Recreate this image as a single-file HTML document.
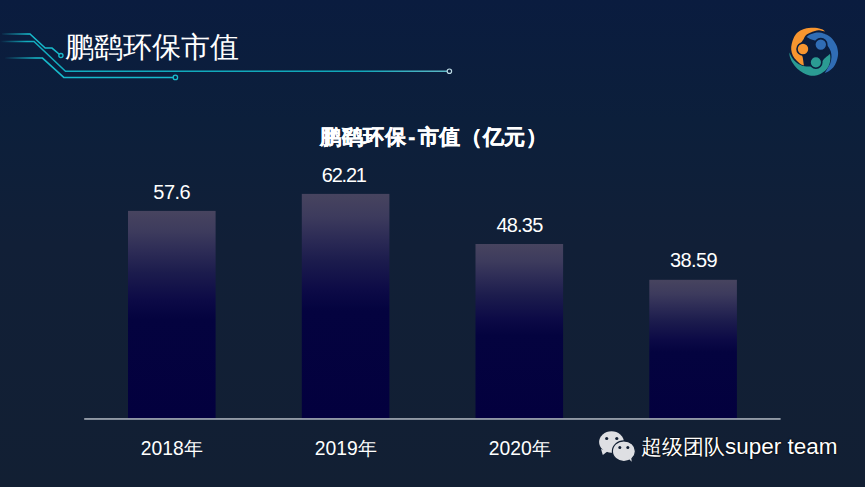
<!DOCTYPE html>
<html><head><meta charset="utf-8">
<style>
*{margin:0;padding:0;box-sizing:border-box}
html,body{width:865px;height:487px;overflow:hidden}
body{position:relative;font-family:"Liberation Sans",sans-serif;color:#fff;
background:linear-gradient(180deg,#0a1c3f 0%,#0c1f3b 25%,#111f37 50%,#121f33 100%)}
.abs{position:absolute}
.t{white-space:nowrap;line-height:1}
#title{left:65px;top:33px;font-size:29px;letter-spacing:0px}
#ctitle{left:320px;top:126.8px;font-size:21.3px;font-weight:bold;letter-spacing:0.7px;-webkit-text-stroke:0.35px #fff}
#ctitle i{font-style:normal;margin:0 1.5px}
.val{position:absolute;font-size:20px;text-align:center;width:120px;line-height:1;letter-spacing:-0.5px}
.cat{position:absolute;font-size:19.3px;text-align:center;width:120px;line-height:1;top:439px}
#wm{left:641px;top:436px;font-size:21px;color:#fff;text-shadow:0 0 2px #000,0 0 1px #000}
#wm span.en{font-size:22.5px}
.k{display:inline-block;width:1em}
#ctitle .k{width:21.7px}
.cat .k{width:19px}
</style></head><body>
<svg class="abs" style="left:0;top:0" width="865" height="487" viewBox="0 0 865 487">
<defs>
<linearGradient id="fade1" gradientUnits="userSpaceOnUse" x1="0" y1="0" x2="28" y2="0">
<stop offset="0" stop-color="#16bacb" stop-opacity="0"/><stop offset="1" stop-color="#16bacb" stop-opacity="1"/></linearGradient>
<linearGradient id="fade2" gradientUnits="userSpaceOnUse" x1="0" y1="0" x2="450" y2="0">
<stop offset="0" stop-color="#12aec0" stop-opacity="0"/><stop offset="0.06" stop-color="#12aec0"/><stop offset="0.8" stop-color="#10a6b8"/><stop offset="1" stop-color="#60b8c6"/></linearGradient>
<linearGradient id="fade3" gradientUnits="userSpaceOnUse" x1="4" y1="0" x2="36" y2="0">
<stop offset="0" stop-color="#16bacb" stop-opacity="0"/><stop offset="1" stop-color="#16bacb" stop-opacity="1"/></linearGradient>
<linearGradient id="barg" x1="0" y1="0" x2="0" y2="1">
<stop offset="0" stop-color="#47445f"/><stop offset="0.10" stop-color="#3d3b5d"/><stop offset="0.205" stop-color="#2b2a55"/><stop offset="0.295" stop-color="#1c1c4d"/><stop offset="0.43" stop-color="#0c0a46"/><stop offset="0.52" stop-color="#04033f"/><stop offset="1" stop-color="#03003e"/></linearGradient>
</defs>
<g fill="url(#barg)">
<rect x="128" y="210.9" width="87.6" height="208"/>
<rect x="301.8" y="193.9" width="87.6" height="225"/>
<rect x="475.5" y="244.0" width="87.6" height="175"/>
<rect x="649.3" y="279.8" width="87.6" height="139.2"/>
</g>
<rect x="84.2" y="418.1" width="696.4" height="1.7" fill="#a0a7b2"/>
<g fill="none" stroke-width="1.5">
<path d="M2,34 H30 L45.2,48.1 H52 L59.3,54.3" stroke="url(#fade1)"/>
<circle cx="60.9" cy="55.6" r="2.1" stroke="#18bccd" stroke-width="1.3"/>
<path d="M0,41.4 H34 L65.5,71.2 H447.2" stroke="url(#fade2)"/>
<circle cx="449.4" cy="71.2" r="2.2" stroke="#bcd9e3" stroke-width="1.2"/>
<path d="M5,58.1 H42.5 L63.8,77.4 H173.2" stroke="url(#fade3)"/>
<circle cx="175.4" cy="77.4" r="2.2" stroke="#18bccd" stroke-width="1.3"/>
</g>
<!-- logo -->
<g>
<path d="M803.90,65.40 C803.38,65.20 802.03,65.02 800.80,64.20 C799.57,63.38 797.83,61.95 796.50,60.50 C795.17,59.05 793.68,57.33 792.80,55.50 C791.92,53.67 791.38,51.42 791.20,49.50 C791.02,47.58 791.27,45.95 791.70,44.00 C792.13,42.05 792.88,39.67 793.80,37.80 C794.72,35.93 795.92,34.10 797.20,32.80 C798.48,31.50 799.95,30.75 801.50,30.00 C803.05,29.25 804.92,28.67 806.50,28.30 C808.08,27.93 809.57,27.88 811.00,27.80 C812.43,27.72 813.73,27.68 815.10,27.80 C816.47,27.92 817.95,28.20 819.20,28.50 C820.45,28.80 821.62,29.07 822.60,29.60 C823.58,30.13 824.68,31.35 825.10,31.70 C824.12,31.47 820.88,30.43 819.20,30.30 C817.52,30.17 816.30,30.58 815.00,30.90 C813.70,31.22 812.92,31.48 811.40,32.20 C809.88,32.92 807.23,33.97 805.90,35.20 C804.57,36.43 804.30,38.13 803.40,39.60 C802.50,41.07 801.15,42.43 800.50,44.00 C799.85,45.57 799.45,47.42 799.50,49.00 C799.55,50.58 800.28,52.17 800.80,53.50 C801.32,54.83 802.08,55.02 802.60,57.00 C803.12,58.98 803.68,64.00 803.90,65.40 Z" fill="#f7952f"/>
<path d="M806.50,37.10 C807.08,36.68 808.67,35.28 810.00,34.60 C811.33,33.92 812.97,33.33 814.50,33.00 C816.03,32.67 817.70,32.53 819.20,32.60 C820.70,32.67 822.15,32.98 823.50,33.40 C824.85,33.82 825.75,34.10 827.30,35.10 C828.85,36.10 831.27,37.65 832.80,39.40 C834.33,41.15 835.63,43.55 836.50,45.60 C837.37,47.65 837.78,49.88 838.00,51.70 C838.22,53.52 838.08,54.78 837.80,56.50 C837.52,58.22 837.03,60.20 836.30,62.00 C835.57,63.80 834.62,65.80 833.40,67.30 C832.18,68.80 830.43,70.03 829.00,71.00 C827.57,71.97 825.50,72.75 824.80,73.10 C825.22,72.38 826.38,70.43 827.30,68.80 C828.22,67.17 829.60,65.25 830.30,63.30 C831.00,61.35 831.42,59.07 831.50,57.10 C831.58,55.13 831.30,53.18 830.80,51.50 C830.30,49.82 829.47,48.42 828.50,47.00 C827.53,45.58 826.42,44.03 825.00,43.00 C823.58,41.97 821.68,41.23 820.00,40.80 C818.32,40.37 816.57,40.72 814.90,40.40 C813.23,40.08 811.40,39.45 810.00,38.90 C808.60,38.35 807.08,37.40 806.50,37.10 Z" fill="#306db5"/>
<path d="M830.00,54.00 C830.07,54.75 830.55,56.65 830.40,58.50 C830.25,60.35 829.93,63.08 829.10,65.10 C828.27,67.12 826.95,69.08 825.40,70.60 C823.85,72.12 821.62,73.35 819.80,74.20 C817.98,75.05 816.22,75.50 814.50,75.70 C812.78,75.90 811.37,75.85 809.50,75.40 C807.63,74.95 805.33,74.10 803.30,73.00 C801.27,71.90 799.12,70.53 797.30,68.80 C795.48,67.07 793.65,64.63 792.40,62.60 C791.15,60.57 790.30,58.28 789.80,56.60 C789.30,54.92 789.47,53.18 789.40,52.50 C789.97,53.55 791.52,57.05 792.80,58.80 C794.08,60.55 795.35,61.80 797.10,63.00 C798.85,64.20 801.25,65.40 803.30,66.00 C805.35,66.60 807.45,66.52 809.40,66.60 C811.35,66.68 813.23,66.93 815.00,66.50 C816.77,66.07 818.47,65.28 820.00,64.00 C821.53,62.72 822.95,60.13 824.20,58.80 C825.45,57.47 826.53,56.80 827.50,56.00 C828.47,55.20 829.58,54.33 830.00,54.00 Z" fill="#2b9b93"/>
<circle cx="803" cy="49" r="6" fill="#f7952f" stroke="#0b1d3d" stroke-width="1.6"/>
<circle cx="820.8" cy="44.6" r="6" fill="#306db5" stroke="#0b1d3d" stroke-width="1.6"/>
<circle cx="815.9" cy="62.3" r="5.9" fill="#2b9b93" stroke="#0b1d3d" stroke-width="1.6"/>
</g>
<!-- wechat -->
<g fill="#dedfe3">
<ellipse cx="611.5" cy="442" rx="12.4" ry="10.7"/>
<path d="M601,449 L602.8,455 L608,451 Z"/>
<ellipse cx="623.9" cy="451.2" rx="11.5" ry="10.3" stroke="#121f33" stroke-width="1.2"/>
<path d="M628,458 L631.7,461.7 L631,456 Z"/>
</g>
<g fill="#121f33">
<circle cx="606.7" cy="438.5" r="1.6"/><circle cx="616.8" cy="438.5" r="1.6"/>
<circle cx="619.8" cy="447.4" r="1.5"/><circle cx="627.8" cy="447.4" r="1.5"/>
</g>
</svg>

<div id="title" class="abs t"><span class="k">鹏</span><span class="k">鹞</span><span class="k">环</span><span class="k">保</span><span class="k">市</span><span class="k">值</span></div>
<div id="ctitle" class="abs t"><span class="k">鹏</span><span class="k">鹞</span><span class="k">环</span><span class="k">保</span><i>-</i><span class="k">市</span><span class="k">值</span><span class="k">（</span><span class="k">亿</span><span class="k">元</span><span class="k">）</span></div>


<div class="val" style="left:111.75px;top:182px">57.6</div>
<div class="val" style="left:283.75px;top:165px;letter-spacing:-1.2px">62.21</div>
<div class="val" style="left:459.5px;top:215px;letter-spacing:-0.8px">48.35</div>
<div class="val" style="left:633.5px;top:250px;letter-spacing:-0.6px">38.59</div>


<div class="cat" style="left:111.75px">2018<span class="k">年</span></div>
<div class="cat" style="left:285.75px">2019<span class="k">年</span></div>
<div class="cat" style="left:459.75px">2020<span class="k">年</span></div>

<div id="wm" class="abs t"><span class="k">超</span><span class="k">级</span><span class="k">团</span><span class="k">队</span><span class="en">super team</span></div>
</body></html>
